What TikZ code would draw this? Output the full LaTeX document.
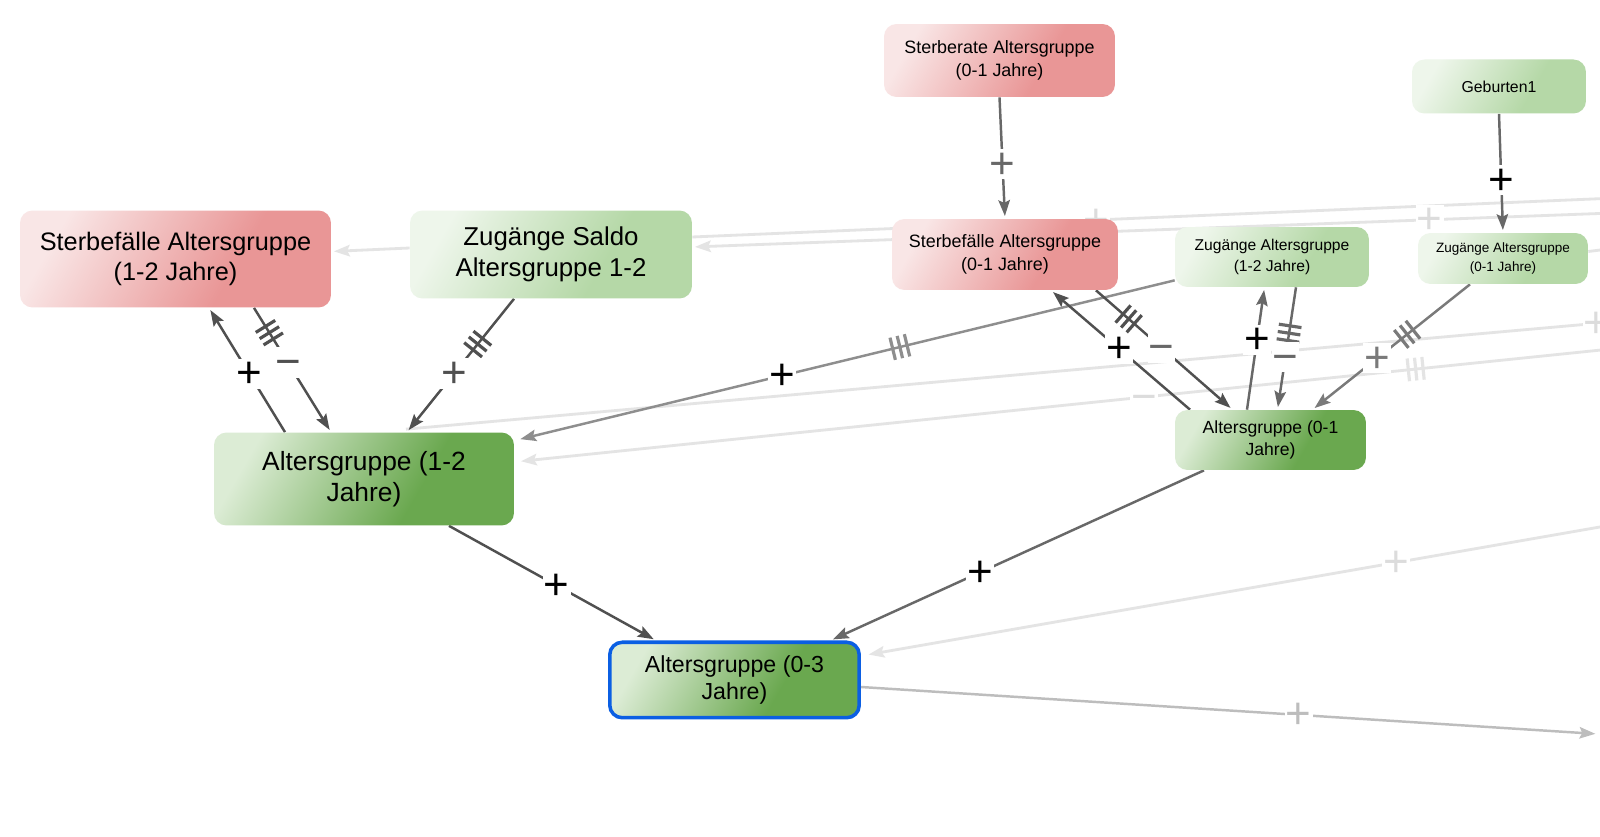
\documentclass[tikz,border=0pt]{standalone}
\usepackage{fontspec}
\setmainfont{Liberation Sans}
\usepackage{tikz}
\usetikzlibrary{calc,arrows.meta,backgrounds,decorations.markings,positioning}
\usepackage{xcolor}

\definecolor{redA}{HTML}{F9E6E6}
\definecolor{redB}{HTML}{E99696}
\definecolor{lgA}{HTML}{EEF6EB}
\definecolor{lgB}{HTML}{B5D8A7}
\definecolor{dgA}{HTML}{DCECD5}
\definecolor{dgB}{HTML}{6AA84F}
\definecolor{edgedark}{HTML}{505050}
\definecolor{edgemid}{HTML}{686868}
\definecolor{edgegray}{HTML}{8E8E8E}
\definecolor{edgegrayB}{HTML}{7A7A7A}
\definecolor{edgefade}{HTML}{E4E4E4}
\definecolor{fadetext}{HTML}{DCDCDC}
\definecolor{edgeout}{HTML}{BDBDBD}
\definecolor{selblue}{HTML}{0B5FE3}

\pgfdeclarehorizontalshading{redfade}{100bp}{color(0bp)=(redA); color(25bp)=(redA); color(62bp)=(redB); color(100bp)=(redB)}
\pgfdeclarehorizontalshading{lgfade}{100bp}{color(0bp)=(lgA); color(25bp)=(lgA); color(62bp)=(lgB); color(100bp)=(lgB)}
\pgfdeclarehorizontalshading{dgfade}{100bp}{color(0bp)=(dgA); color(25bp)=(dgA); color(62bp)=(dgB); color(100bp)=(dgB)}

\begin{document}
\begin{tikzpicture}[x=0.02cm, y=-0.02cm,
	box/.style={rounded corners=0.25cm, align=center, inner sep=0pt},
	redbox/.style={box, shading=redfade, shading angle=-30},
	zubox/.style={box, shading=lgfade, shading angle=-30},
	agbox/.style={box, shading=dgfade, shading angle=-30},
	link/.style={draw=#1, line width=1.4pt, -{Stealth[length=9pt,width=6.5pt,inset=1.5pt]}, shorten >=1.5pt},
	fadelink/.style={link=#1, line width=1.6pt},
	sign/.style={fill=white, inner sep=0.6pt, text height=16pt, text depth=0pt, font=\fontsize{25}{25}\selectfont},
	delay/.style 2 args={postaction={decorate, decoration={markings, mark=at position #1 with {\foreach \dx in {-4.2pt,0pt,4.2pt} \draw[-, draw=#2, line width=1.8pt, shorten >=0pt] (\dx,-6.5pt) -- (\dx,6.5pt);}}}}
	]
	\useasboundingbox (0,0) rectangle (1600,837);
	
	% stocks and flows
	\node[redbox, minimum width=6.22cm, minimum height=1.94cm, font=\fontsize{14.4}{17.3}\selectfont] (sfAGb) at (175.5,259) {Sterbefälle Altersgruppe\\(1-2 Jahre)};
	\node[zubox, minimum width=5.64cm, minimum height=1.76cm, font=\fontsize{14.7}{17.9}\selectfont] (zgSaldo) at (551,254.5) {Zugänge Saldo\\Altersgruppe 1-2};
	\node[agbox, minimum width=6cm, minimum height=1.86cm, font=\fontsize{15}{17.9}\selectfont] (agB) at (364,479) {Altersgruppe (1-2\\Jahre)};
	\node[agbox, draw=selblue, line width=2pt, minimum width=4.99cm, minimum height=1.51cm, font=\fontsize{13.2}{15.6}\selectfont] (agC) at (734.5,680) {Altersgruppe (0-3\\Jahre)};
	\node[redbox, minimum width=4.62cm, minimum height=1.46cm, font=\fontsize{10.2}{12.7}\selectfont] (srA) at (999.5,60.5) {Sterberate Altersgruppe\\(0-1 Jahre)};
	\node[redbox, minimum width=4.52cm, minimum height=1.42cm, font=\fontsize{10.2}{12.7}\selectfont] (sfA) at (1005,254.5) {Sterbefälle Altersgruppe\\(0-1 Jahre)};
	\node[zubox, minimum width=3.88cm, minimum height=1.2cm, font=\fontsize{8.9}{11.6}\selectfont] (zgB) at (1272,257) {Zugänge Altersgruppe\\(1-2 Jahre)};
	\node[zubox, minimum width=3.4cm, minimum height=1.02cm, font=\fontsize{7.7}{10.4}\selectfont] (zgA) at (1503,258.5) {Zugänge Altersgruppe\\(0-1 Jahre)};
	\node[zubox, minimum width=3.48cm, minimum height=1.08cm, font=\fontsize{9}{11}\selectfont] (geb) at (1499,86.5) {Geburten1};
	\node[agbox, minimum width=3.82cm, minimum height=1.2cm, font=\fontsize{10}{12.7}\selectfont] (agA) at (1270.5,440) {Altersgruppe (0-1\\Jahre)};
	
	% ends of the links that leave the picture
	\coordinate (offA) at (1640,197);
	\coordinate (offB) at (1640,212);
	\coordinate (offC) at (1640,319.5);
	\coordinate (offD) at (1640,346);
	\coordinate (offE) at (1640,520);
	\coordinate (offF) at (1598,734);
	\coordinate (offG) at (1640,245);
	
	\begin{scope}[on background layer]
		\fill[white] (0,0) rectangle (1600,837);
		% faded links
		\draw[fadelink=edgefade, -] ([yshift=0.35cm]zgSaldo.east) -- node[sign, text=fadetext, pos=0.426] {+} (offA);
		\draw[fadelink=edgefade] (offB) -- node[sign, text=fadetext, pos=0.222] {+} ([yshift=0.15cm]zgSaldo.east);
		\draw[fadelink=edgefade] ([yshift=0.13cm]zgSaldo.west) -- ([yshift=0.15cm]sfAGb.east);
		\draw[fadelink=edgefade, -] ([xshift=0.84cm,yshift=0.06cm]agB.north) -- node[sign, text=fadetext, pos=0.965] {+} (offC);
		\draw[fadelink=edgefade, delay={0.2}{edgefade}] (offD) -- node[sign, text=fadetext, pos=0.442] {−} ([xshift=0.08cm,yshift=0.35cm]agB.east);
		\draw[fadelink=edgefade] (offE) -- node[sign, text=fadetext, pos=0.315] {+} ([xshift=0.1cm,yshift=0.5cm]agC.east);
		\draw[fadelink=edgefade, -] ([yshift=0.14cm]zgA.east) -- (offG);
		\draw[link=edgeout] ([yshift=-0.14cm]agC.east) -- node[sign, text=edgeout, pos=0.594] {+} (offF);
		
		% links round Altersgruppe (1-2 Jahre)
		\draw[link=edgedark] ([xshift=-1.58cm]agB.north) -- node[sign, pos=0.47] {+} ([xshift=0.67cm]sfAGb.south);
		\draw[link=edgedark, delay={0.2}{edgedark}] ([xshift=1.57cm]sfAGb.south) -- node[sign, text=edgedark, pos=0.44] {−} ([xshift=-0.66cm]agB.north);
		\draw[link=edgedark, delay={0.34}{edgedark}] ([xshift=-0.74cm]zgSaldo.south) -- node[sign, text=edgedark, pos=0.56] {+} ([xshift=0.86cm]agB.north);
		\draw[link=edgegray, delay={0.42}{edgegray}, shorten >=0pt] ([yshift=0.14cm]zgB.south west) -- node[sign, pos=0.6] {+} ([xshift=0.12cm,yshift=-0.14cm]agB.north east);
		\draw[link=edgedark] ([xshift=1.7cm]agB.south) -- node[sign, pos=0.52] {+} ([xshift=-1.57cm]agC.north);
		
		% links round Altersgruppe (0-1 Jahre)
		\draw[link=edgemid] ([xshift=-1.33cm]agA.south) -- node[sign, pos=0.6] {+} ([xshift=1.92cm]agC.north);
		\draw[link=edgemid] (srA.south) -- node[sign, text=edgemid, pos=0.55] {+} (sfA.north);
		\draw[link=edgemid] (geb.south) -- node[sign, pos=0.56] {+} (zgA.north);
		\draw[link=edgedark] ([xshift=-1.61cm]agA.north) -- node[sign, pos=0.51] {+} ([xshift=0.92cm]sfA.south);
		\draw[link=edgedark, delay={0.24}{edgedark}] ([xshift=1.82cm]sfA.south) -- node[sign, text=edgemid, pos=0.48] {−} ([xshift=-0.76cm]agA.north);
		\draw[link=edgemid] ([xshift=-0.47cm]agA.north) -- node[sign, pos=0.57] {+} ([xshift=-0.15cm]zgB.south);
		\draw[link=edgemid, delay={0.375}{edgemid}] ([xshift=0.48cm]zgB.south) -- node[sign, text=edgemid, pos=0.57] {−} ([xshift=0.14cm]agA.north);
		\draw[link=edgegrayB, delay={0.4}{edgegrayB}] ([xshift=-0.66cm]zgA.south) -- node[sign, text=edgegrayB, pos=0.59] {+} ([xshift=0.84cm]agA.north);
	\end{scope}
\end{tikzpicture}
\end{document}
